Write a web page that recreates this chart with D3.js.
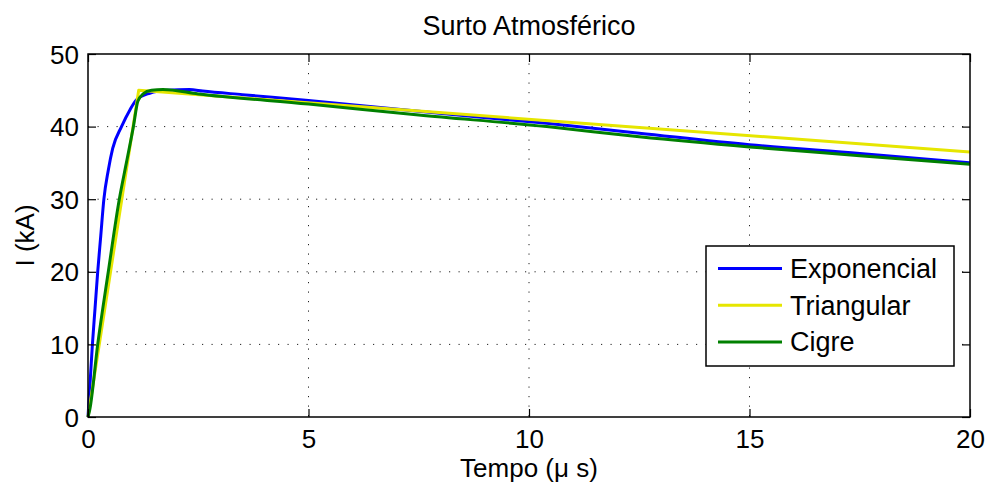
<!DOCTYPE html>
<html>
<head>
<meta charset="utf-8">
<script src="https://cdn.jsdelivr.net/npm/d3@7"></script>
<style>
  body { margin: 0; background: #fff; }
  text { font-family: "Liberation Sans", Arial, sans-serif; fill: #000; }
</style>
</head>
<body>
<svg id="chart" width="985" height="485"></svg>
<script>
// values: time in microseconds, current in kA
var tExp = [0, 0.05, 0.1, 0.16, 0.22, 0.29, 0.36, 0.46, 0.56, 0.76, 0.95, 1.1, 1.4, 1.8, 2.3, 2.6, 3.5, 5, 7.5, 10.4, 12.5, 15, 17.5, 20];
var iExp = [0, 5, 10, 15, 20, 25, 30, 34, 37, 40, 42.3, 43.7, 44.6, 45.0, 45.1, 44.9, 44.4, 43.6, 42.1, 40.45, 39.1, 37.5, 36.3, 35.0];

var tTri = [0, 1.15, 20];
var iTri = [0, 45, 36.5];

var tCig = [0, 0.04, 0.22, 0.46, 0.71, 0.87, 1.03, 1.13, 1.25, 1.44, 1.7, 2.5, 5, 7.5, 10.4, 12.5, 15, 17.5, 20];
var iCig = [0, 1, 10, 20, 30, 35, 40, 43.5, 44.5, 45, 45.1, 44.5, 43.1, 41.6, 40.0, 38.6, 37.2, 36.0, 34.8];

var seriesNames = ["Exponencial", "Triangular", "Cigre"];
var seriesColors = ["#0000ff", "#e6e600", "#008000"];

var xTicks = [0, 5, 10, 15, 20];
var yTicks = [0, 10, 20, 30, 40, 50];

var svg = d3.select("#chart");
// plot box (window.top is reserved, so use other names)
var pLeft = 88, pRight = 970, pTop = 54, pBottom = 417;

var x = d3.scaleLinear().domain([0, 20]).range([pLeft, pRight]);
var y = d3.scaleLinear().domain([0, 50]).range([pBottom, pTop]);

function zipPts(ts, is) {
    return ts.map(function(t, k) { return [t, is[k]]; });
}
var allData = [zipPts(tExp, iExp), zipPts(tTri, iTri), zipPts(tCig, iCig)];

// grid
var grid = svg.append("g").attr("class", "grid");
grid.selectAll("line.gx")
    .data(xTicks.slice(1, -1))
    .enter().append("line").attr("class", "gx")
    .attr("x1", function(d) { return x(d); })
    .attr("x2", function(d) { return x(d); })
    .attr("y1", pTop).attr("y2", pBottom);
grid.selectAll("line.gy")
    .data(yTicks.slice(1, -1))
    .enter().append("line").attr("class", "gy")
    .attr("y1", function(d) { return y(d); })
    .attr("y2", function(d) { return y(d); })
    .attr("x1", pLeft).attr("x2", pRight);
grid.selectAll("line")
    .attr("stroke", "#222")
    .attr("stroke-width", 1)
    .attr("stroke-dasharray", "1.2,8.3");

// curves
var line = d3.line()
    .x(function(d) { return x(d[0]); })
    .y(function(d) { return y(d[1]); });

svg.append("g").selectAll("path")
    .data(allData)
    .enter().append("path")
    .attr("d", function(d, i) {
        return line.curve(i === 1 ? d3.curveLinear : d3.curveMonotoneX)(d);
    })
    .attr("fill", "none")
    .attr("stroke", function(d, i) { return seriesColors[i]; })
    .attr("stroke-width", 3)
    .attr("stroke-linejoin", "round");

// axes, ticks inside on all four sides
var tickLen = 8;
var axB = svg.append("g").attr("transform", "translate(0," + pBottom + ")")
    .call(d3.axisBottom(x).tickValues(xTicks).tickSizeInner(-tickLen).tickSizeOuter(0).tickPadding(13));
var axT = svg.append("g").attr("transform", "translate(0," + pTop + ")")
    .call(d3.axisTop(x).tickValues(xTicks).tickSizeInner(-tickLen).tickSizeOuter(0).tickFormat(""));
var axL = svg.append("g").attr("transform", "translate(" + pLeft + ",0)")
    .call(d3.axisLeft(y).tickValues(yTicks).tickSizeInner(-tickLen).tickSizeOuter(0).tickPadding(9));
var axR = svg.append("g").attr("transform", "translate(" + pRight + ",0)")
    .call(d3.axisRight(y).tickValues(yTicks).tickSizeInner(-tickLen).tickSizeOuter(0).tickFormat(""));

[axB, axT, axL, axR].forEach(function(a) {
    a.select(".domain").remove();
    a.selectAll("line").attr("stroke", "#000").attr("stroke-width", 1.2);
    a.selectAll("text").attr("font-size", 26).attr("font-family", "Liberation Sans, Arial, sans-serif").attr("fill", "#000");
});
axL.selectAll("text").attr("dy", "0.35em");

svg.append("rect")
    .attr("x", pLeft).attr("y", pTop)
    .attr("width", pRight - pLeft).attr("height", pBottom - pTop)
    .attr("fill", "none").attr("stroke", "#000").attr("stroke-width", 1.5);

// titles
svg.append("text")
    .attr("x", (pLeft + pRight) / 2).attr("y", 35)
    .attr("text-anchor", "middle").attr("font-size", 27)
    .text("Surto Atmosférico");
svg.append("text")
    .attr("x", (pLeft + pRight) / 2).attr("y", 477)
    .attr("text-anchor", "middle").attr("font-size", 26)
    .text("Tempo (\u03bc s)");
svg.append("text")
    .attr("transform", "translate(34," + ((pTop + pBottom) / 2) + ") rotate(-90)")
    .attr("text-anchor", "middle").attr("font-size", 26)
    .text("I (kA)");

// legend
var lg = svg.append("g").attr("transform", "translate(706,246)");
lg.append("rect")
    .attr("width", 248).attr("height", 120)
    .attr("fill", "#fff").attr("stroke", "#000").attr("stroke-width", 1.5);
var rows = lg.selectAll("g.row")
    .data(seriesNames)
    .enter().append("g").attr("class", "row")
    .attr("transform", function(d, i) { return "translate(0," + (22.5 + i * 36.7) + ")"; });
rows.append("line")
    .attr("x1", 12).attr("x2", 76)
    .attr("stroke", function(d, i) { return seriesColors[i]; })
    .attr("stroke-width", 3);
rows.append("text")
    .attr("x", 84).attr("dy", "0.35em")
    .attr("font-size", 27)
    .text(function(d) { return d; });
</script>
</body>
</html>
